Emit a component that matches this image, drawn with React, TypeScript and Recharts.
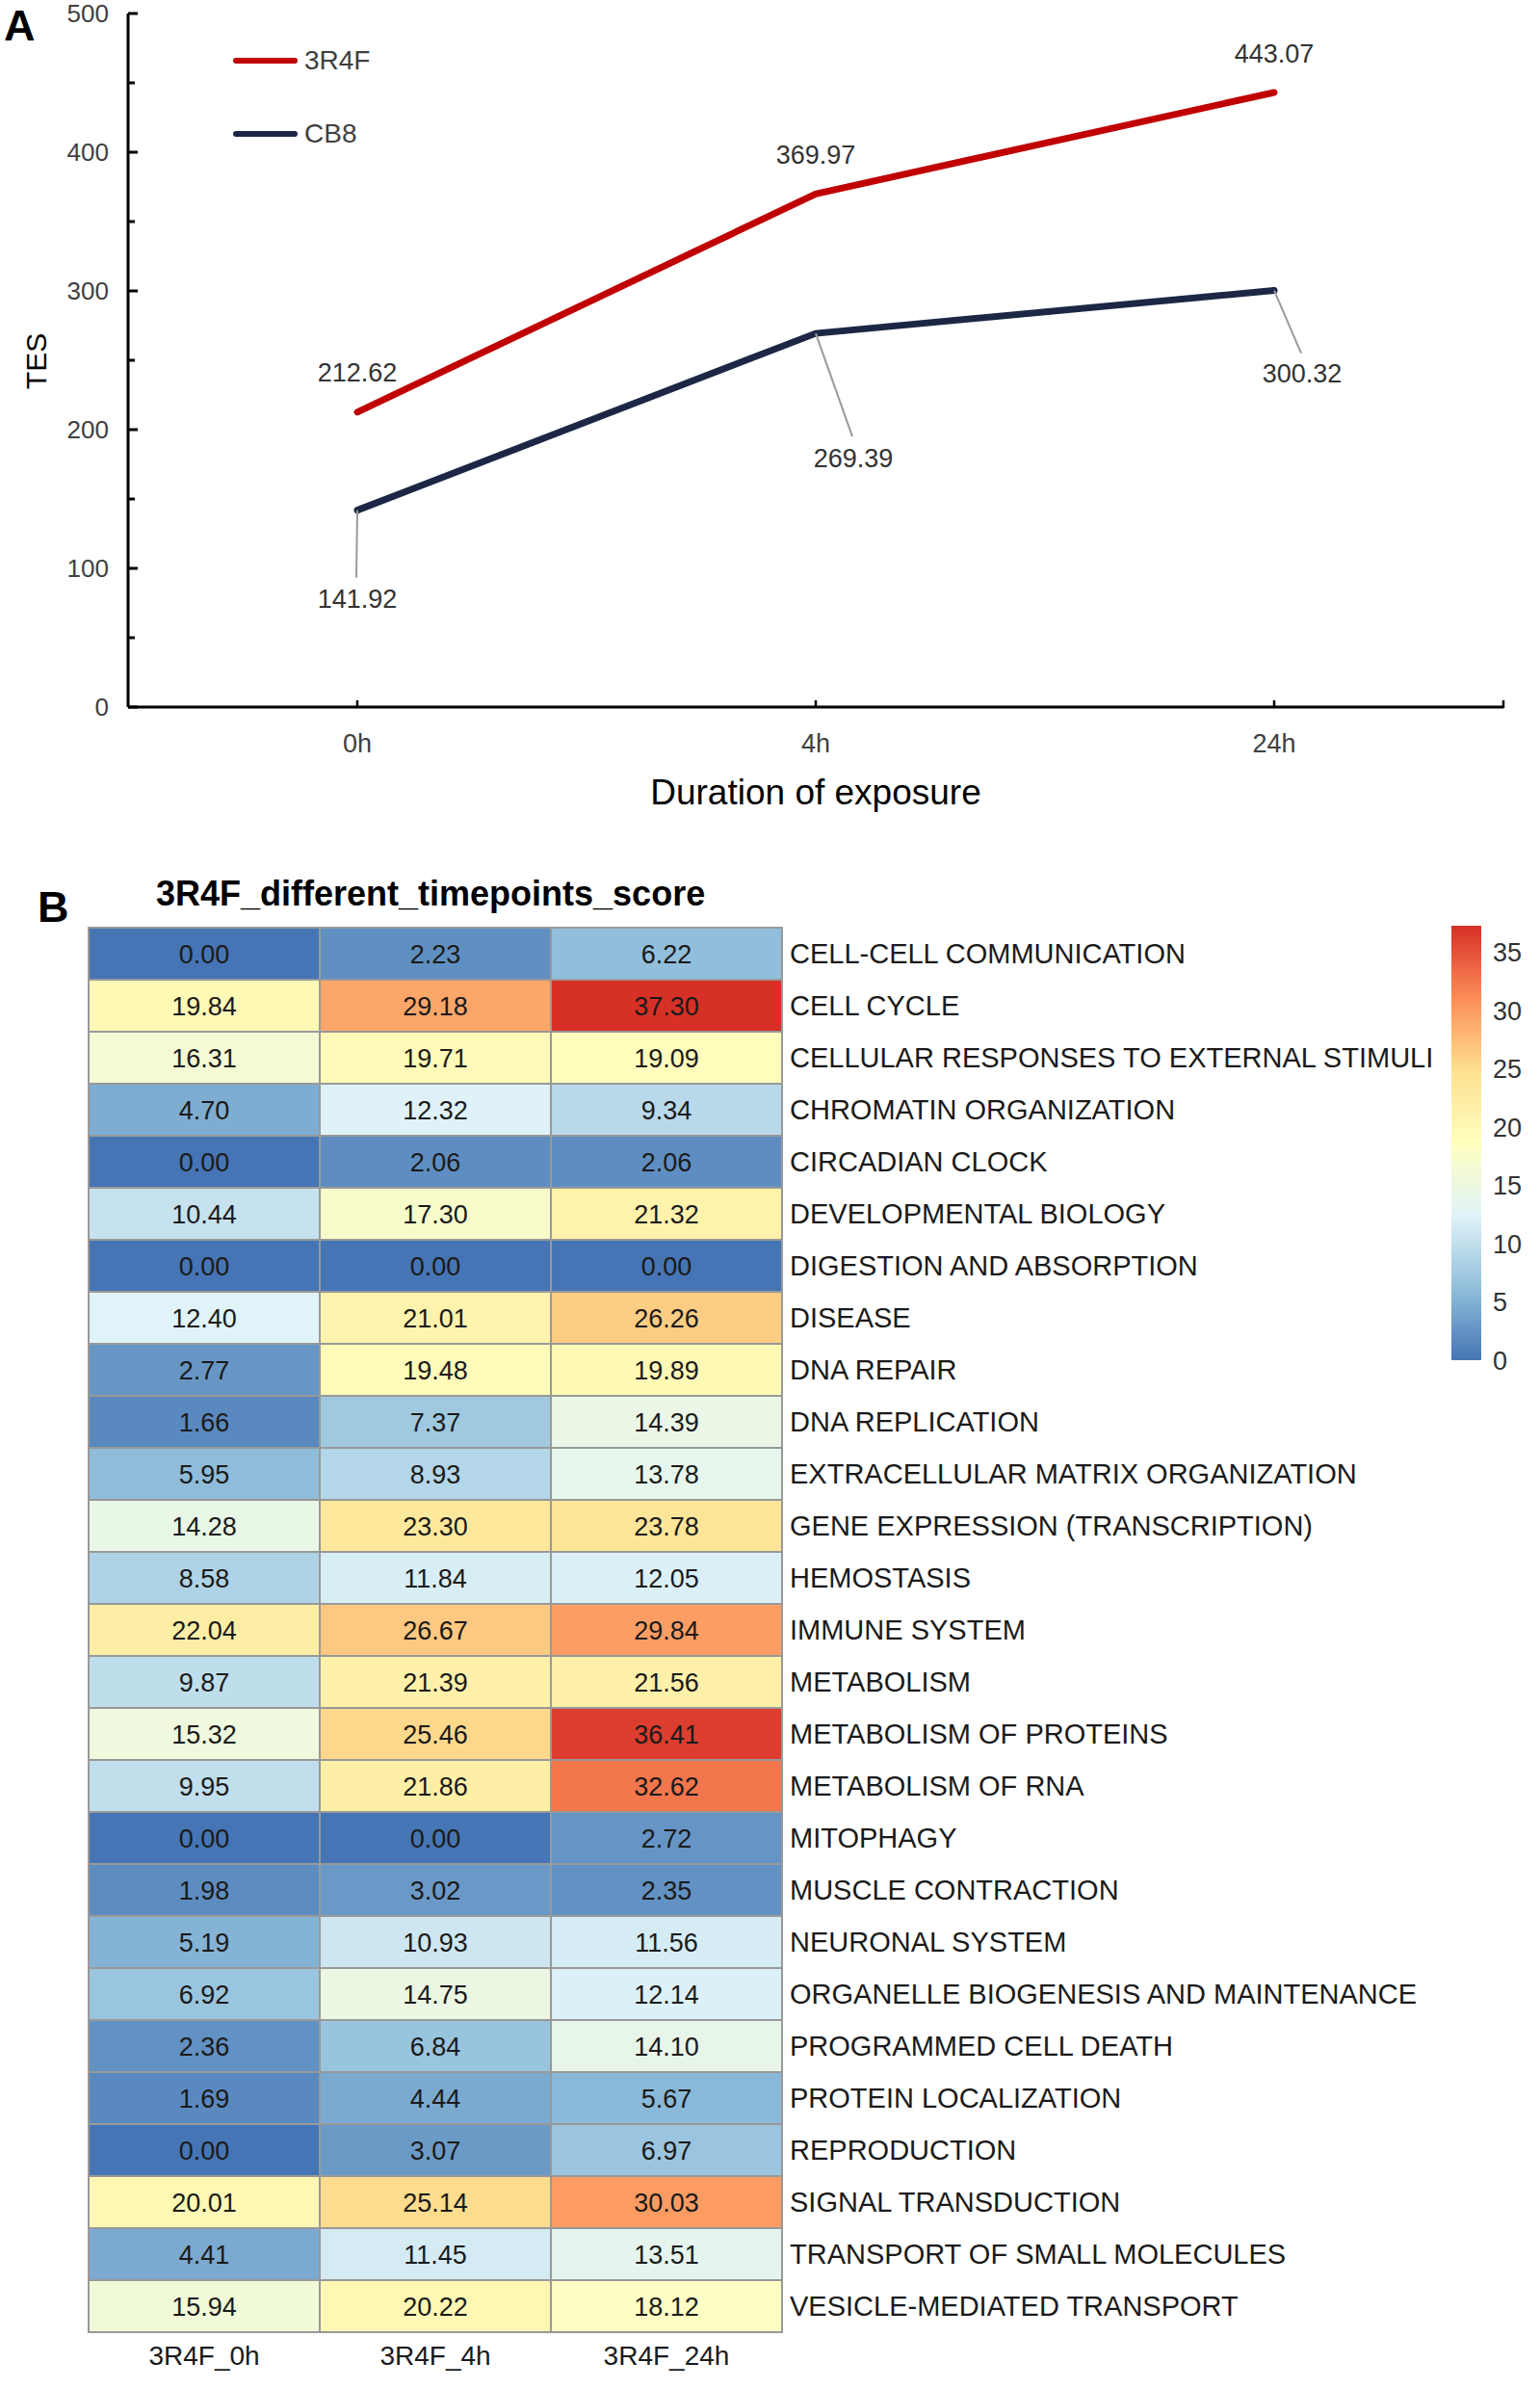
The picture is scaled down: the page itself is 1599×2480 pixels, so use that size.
import React from 'react';
import {
  LineChart, Line, XAxis, YAxis, Legend, LabelList,
  ScatterChart, Scatter, BarChart, Bar,
} from 'recharts';

const FONT = '"Liberation Sans", Arial, Helvetica, sans-serif';

// ---- panel A data ----
const timepoints = ['0h', '4h', '24h'];
const tes3R4F = [212.62, 369.97, 443.07];
const tesCB8 = [141.92, 269.39, 300.32];
const tesTicks = [0, 50, 100, 150, 200, 250, 300, 350, 400, 450, 500];

// ---- panel B data ----
const heatColumns = ['3R4F_0h', '3R4F_4h', '3R4F_24h'];
const pathways = [
  'CELL-CELL COMMUNICATION',
  'CELL CYCLE',
  'CELLULAR RESPONSES TO EXTERNAL STIMULI',
  'CHROMATIN ORGANIZATION',
  'CIRCADIAN CLOCK',
  'DEVELOPMENTAL BIOLOGY',
  'DIGESTION AND ABSORPTION',
  'DISEASE',
  'DNA REPAIR',
  'DNA REPLICATION',
  'EXTRACELLULAR MATRIX ORGANIZATION',
  'GENE EXPRESSION (TRANSCRIPTION)',
  'HEMOSTASIS',
  'IMMUNE SYSTEM',
  'METABOLISM',
  'METABOLISM OF PROTEINS',
  'METABOLISM OF RNA',
  'MITOPHAGY',
  'MUSCLE CONTRACTION',
  'NEURONAL SYSTEM',
  'ORGANELLE BIOGENESIS AND MAINTENANCE',
  'PROGRAMMED CELL DEATH',
  'PROTEIN LOCALIZATION',
  'REPRODUCTION',
  'SIGNAL TRANSDUCTION',
  'TRANSPORT OF SMALL MOLECULES',
  'VESICLE-MEDIATED TRANSPORT',
];
const score0h = [0.00, 19.84, 16.31, 4.70, 0.00, 10.44, 0.00, 12.40, 2.77, 1.66, 5.95, 14.28, 8.58, 22.04, 9.87, 15.32, 9.95, 0.00, 1.98, 5.19, 6.92, 2.36, 1.69, 0.00, 20.01, 4.41, 15.94];
const score4h = [2.23, 29.18, 19.71, 12.32, 2.06, 17.30, 0.00, 21.01, 19.48, 7.37, 8.93, 23.30, 11.84, 26.67, 21.39, 25.46, 21.86, 0.00, 3.02, 10.93, 14.75, 6.84, 4.44, 3.07, 25.14, 11.45, 20.22];
const score24h = [6.22, 37.30, 19.09, 9.34, 2.06, 21.32, 0.00, 26.26, 19.89, 14.39, 13.78, 23.78, 12.05, 29.84, 21.56, 36.41, 32.62, 2.72, 2.35, 11.56, 12.14, 14.10, 5.67, 6.97, 30.03, 13.51, 18.12];
const colorbarTicks = [0, 5, 10, 15, 20, 25, 30, 35];

// pheatmap default palette (rev RdYlBu, 7 stops)
const PALETTE = ['#4575B4', '#91BFDB', '#E0F3F8', '#FFFFBF', '#FEE090', '#FC8D59', '#D73027'];

const lineData = timepoints.map((t, i) => ({ time: t, r4f: tes3R4F[i], cb8: tesCB8[i] }));

const scoreColumns = [score0h, score4h, score24h];
const heatData = pathways.flatMap((_, row) =>
  scoreColumns.map((arr, col) => ({ row, col, value: arr[row] }))
);
const maxScore = Math.max(...score0h, ...score4h, ...score24h);

const hex = (c: string) => [1, 3, 5].map(i => parseInt(c.slice(i, i + 2), 16));
const scoreColor = (v: number) => {
  const t = Math.max(0, Math.min(1, v / maxScore)) * (PALETTE.length - 1);
  const i = Math.min(Math.floor(t), PALETTE.length - 2);
  const f = t - i;
  const a = hex(PALETTE[i]);
  const b = hex(PALETTE[i + 1]);
  const m = a.map((x, k) => Math.round(x + (b[k] - x) * f));
  return `rgb(${m[0]},${m[1]},${m[2]})`;
};

// layout constants
const Y_TICK_GAP = 20;
const X_TICK_GAP = 28;
const HALF_BAND = 238;
const HEAT_W = 720;
const HEAT_H = 1458;
const CELL_W = HEAT_W / heatColumns.length;
const CELL_H = HEAT_H / pathways.length;

// label placement for the CB8 callouts (offset from the point)
const cb8Callouts = [
  { dx: 0, dy: 92, lx: -1, ly: 70 },
  { dx: 39, dy: 129, lx: 38, ly: 107 },
  { dx: 29, dy: 86, lx: 28, ly: 65 },
];

const YTick = (props: any) => {
  const { x, y, payload } = props;
  const major = payload.value % 100 === 0;
  const ax = x + Y_TICK_GAP;
  return (
    <g>
      <line x1={ax} x2={ax + (major ? 10 : 7)} y1={y} y2={y} stroke="#000" strokeWidth={3} />
      {major && (
        <text x={x} y={y} dy="0.355em" textAnchor="end" fill="#404040" fontSize={26} fontFamily={FONT}>
          {payload.value}
        </text>
      )}
    </g>
  );
};

const XTick = (props: any) => {
  const { x, y, payload, index } = props;
  const ay = y - X_TICK_GAP;
  return (
    <g>
      <line x1={x} x2={x} y1={ay} y2={ay - 7} stroke="#000" strokeWidth={2.5} />
      {index === timepoints.length - 1 && (
        <line x1={x + HALF_BAND} x2={x + HALF_BAND} y1={ay + 1} y2={ay - 7} stroke="#000" strokeWidth={2.5} />
      )}
      <text x={x} y={y} dy="0.71em" textAnchor="middle" fill="#404040" fontSize={27} fontFamily={FONT}>
        {payload.value}
      </text>
    </g>
  );
};

const TopLabel = (props: any) => {
  const { x, y, value } = props;
  return (
    <text x={x} y={y - 41} dy="0.355em" textAnchor="middle" fill="#333" fontSize={27} fontFamily={FONT}>
      {Number(value).toFixed(2)}
    </text>
  );
};

const CalloutLabel = (props: any) => {
  const { x, y, value, index } = props;
  const c = cb8Callouts[index] || cb8Callouts[0];
  return (
    <g>
      <line x1={x} y1={y} x2={x + c.lx} y2={y + c.ly} stroke="#9a9a9a" strokeWidth={2} />
      <text x={x + c.dx} y={y + c.dy} dy="0.355em" textAnchor="middle" fill="#333" fontSize={27} fontFamily={FONT}>
        {Number(value).toFixed(2)}
      </text>
    </g>
  );
};

const LineLegend = (props: any) => {
  const { payload } = props;
  return (
    <div style={{ fontFamily: FONT }}>
      {(payload || []).map((p: any) => (
        <div key={p.value} style={{ display: 'flex', alignItems: 'center', height: 40, marginBottom: 36 }}>
          <div style={{ width: 67, height: 6, borderRadius: 3, background: p.color }} />
          <span style={{ marginLeft: 7, fontSize: 28, color: '#404040' }}>{p.value}</span>
        </div>
      ))}
    </div>
  );
};

const HeatCell = (props: any) => {
  const { cx, cy, payload } = props;
  return (
    <g>
      <rect
        x={cx - CELL_W / 2}
        y={cy - CELL_H / 2}
        width={CELL_W}
        height={CELL_H}
        fill={scoreColor(payload.value)}
        stroke="#999"
        strokeWidth={2}
      />
      <text x={cx} y={cy} dy="0.355em" textAnchor="middle" fill="#1a1a1a" fontSize={27} fontFamily={FONT}>
        {payload.value.toFixed(2)}
      </text>
    </g>
  );
};

const panelLetter: React.CSSProperties = {
  position: 'absolute',
  fontFamily: FONT,
  fontWeight: 'bold',
  fontSize: 45,
  lineHeight: '45px',
  color: '#000',
};

export default function App() {
  return (
    <div style={{ position: 'absolute', left: 0, top: 0, width: 1599, height: 2480, background: '#fff', fontFamily: FONT }}>
      <div style={{ ...panelLetter, left: 4, top: 4 }}>A</div>

      <div style={{ position: 'absolute', left: 0, top: 0 }}>
        <LineChart width={1599} height={860} data={lineData} margin={{ top: 14, right: 38, bottom: 0, left: 0 }}>
          <XAxis
            dataKey="time"
            padding={{ left: HALF_BAND, right: HALF_BAND }}
            height={126}
            axisLine={{ stroke: '#000', strokeWidth: 3 }}
            tickLine={false}
            tickSize={0}
            tickMargin={X_TICK_GAP}
            tick={<XTick />}
            interval={0}
            label={{ value: 'Duration of exposure', position: 'insideBottom', offset: 25, fill: '#000', fontSize: 37, fontFamily: FONT }}
          />
          <YAxis
            width={133}
            domain={[0, 500]}
            ticks={tesTicks}
            interval={0}
            axisLine={{ stroke: '#000', strokeWidth: 3 }}
            tickLine={false}
            tickSize={0}
            tickMargin={Y_TICK_GAP}
            tick={<YTick />}
          />
          <Legend
            layout="vertical"
            align="center"
            verticalAlign="middle"
            content={<LineLegend />}
            wrapperStyle={{ left: 242, top: 43, width: 200 }}
          />
          <Line
            name="3R4F"
            dataKey="r4f"
            stroke="#C00000"
            strokeWidth={7}
            strokeLinecap="round"
            dot={false}
            activeDot={false}
            isAnimationActive={false}
          >
            <LabelList dataKey="r4f" content={<TopLabel />} />
          </Line>
          <Line
            name="CB8"
            dataKey="cb8"
            stroke="#1B2744"
            strokeWidth={7}
            strokeLinecap="round"
            dot={false}
            activeDot={false}
            isAnimationActive={false}
          >
            <LabelList dataKey="cb8" content={<CalloutLabel />} />
          </Line>
        </LineChart>
        <div
          style={{
            position: 'absolute', left: 38, top: 375, transform: 'translate(-50%, -50%) rotate(-90deg)',
            fontSize: 30, color: '#000', fontFamily: FONT, whiteSpace: 'nowrap',
          }}
        >
          TES
        </div>
      </div>

      <div style={{ ...panelLetter, left: 39, top: 919 }}>B</div>
      <div
        style={{
          position: 'absolute', left: 162, top: 910, fontFamily: FONT, fontWeight: 'bold',
          fontSize: 36, lineHeight: '36px', color: '#000', whiteSpace: 'nowrap',
        }}
      >
        3R4F_different_timepoints_score
      </div>

      <div style={{ position: 'absolute', left: 0, top: 900 }}>
        <ScatterChart width={1599} height={1580} margin={{ top: 63, right: 0, bottom: 0, left: 92 }}>
          <XAxis
            type="number"
            dataKey="col"
            domain={[-0.5, heatColumns.length - 0.5]}
            ticks={heatColumns.map((_, i) => i)}
            tickFormatter={(i: number) => heatColumns[i] ?? ''}
            interval={0}
            height={59}
            axisLine={false}
            tickLine={false}
            tickSize={0}
            tickMargin={14}
            tick={{ fill: '#1a1a1a', fontSize: 28, fontFamily: FONT }}
          />
          <YAxis
            type="number"
            dataKey="row"
            orientation="right"
            reversed
            domain={[-0.5, pathways.length - 0.5]}
            ticks={pathways.map((_, i) => i)}
            tickFormatter={(i: number) => pathways[i] ?? ''}
            interval={0}
            width={787}
            axisLine={false}
            tickLine={false}
            tickSize={0}
            tickMargin={8}
            tick={{ fill: '#1a1a1a', fontSize: 29, fontFamily: FONT }}
          />
          <Scatter data={heatData} shape={(p: any) => <HeatCell {...p} />} isAnimationActive={false} />
        </ScatterChart>
      </div>

      <div style={{ position: 'absolute', left: 1507, top: 940 }}>
        <BarChart width={92} height={500} data={[{ name: 'score', value: maxScore }]} margin={{ top: 21, right: 0, bottom: 28, left: 0 }} barCategoryGap={0}>
          <defs>
            <linearGradient id="rdylbu" x1="0" y1="1" x2="0" y2="0">
              {PALETTE.map((c, i) => (
                <stop key={c} offset={`${(i / (PALETTE.length - 1)) * 100}%`} stopColor={c} />
              ))}
            </linearGradient>
          </defs>
          <XAxis dataKey="name" hide />
          <YAxis
            orientation="right"
            domain={[0, maxScore]}
            ticks={colorbarTicks}
            interval={0}
            width={61}
            axisLine={false}
            tickLine={false}
            tickSize={0}
            tickMargin={12}
            tick={{ fill: '#333', fontSize: 27, fontFamily: FONT }}
          />
          <Bar dataKey="value" fill="url(#rdylbu)" isAnimationActive={false} />
        </BarChart>
      </div>
    </div>
  );
}
